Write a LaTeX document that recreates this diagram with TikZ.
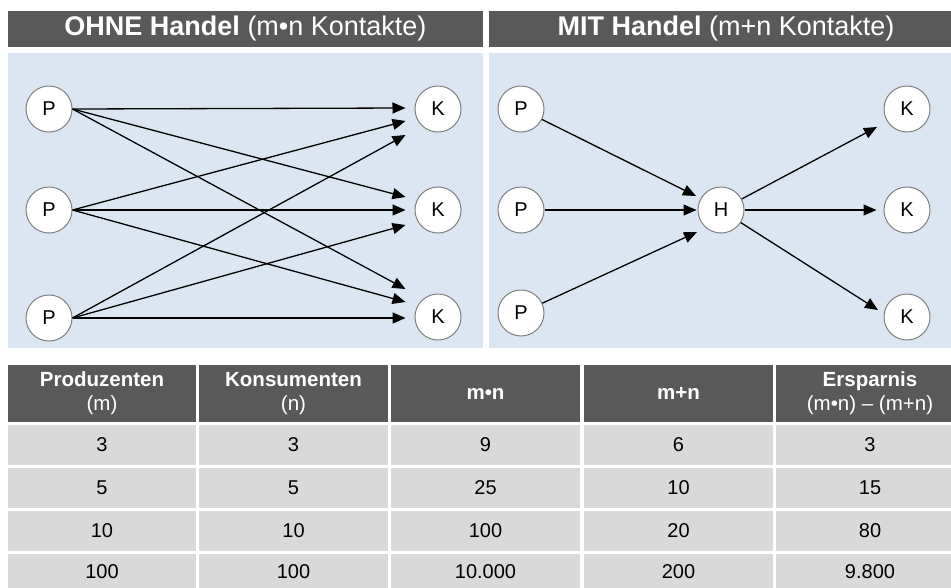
\documentclass[tikz,border=0pt]{standalone}
\usepackage{fontspec}
\setmainfont{Liberation Sans}
\usetikzlibrary{arrows.meta,calc}

\definecolor{barGrey}{HTML}{595959}
\definecolor{panelBlue}{HTML}{DCE6F2}
\definecolor{cellGrey}{HTML}{D9D9D9}
\definecolor{ringGrey}{HTML}{7F7F7F}

\begin{document}
\begin{tikzpicture}[x=1pt,y=-1pt,
  agent/.style={circle,draw=ringGrey,line width=1pt,fill=white,minimum size=46pt,
    inner sep=0pt,font=\fontsize{20}{20}\selectfont},
  flow/.style={line width=1.3pt,draw=black,-{Triangle[length=13pt,width=11pt]}},
  titlebar/.style={fill=barGrey,text=white,inner sep=0pt,minimum height=36pt,
    font=\fontsize{27}{27}\selectfont},
  headcell/.style={fill=barGrey,text=white,inner sep=0pt,align=center,
    font=\fontsize{20.5}{24}\selectfont},
  datacell/.style={fill=cellGrey,text=black,inner sep=0pt,
    font=\fontsize{20}{20}\selectfont},
]
\useasboundingbox (0,0) rectangle (951,587);
\clip (0,0) rectangle (951,587);

% title bars
\node[titlebar,minimum width=475pt] (tl) at (245.5,29) {\textbf{OHNE Handel} (m•n Kontakte)};
\node[titlebar,minimum width=474pt] (tr) at (726,29) {\textbf{MIT Handel} (m+n Kontakte)};

% panels
\fill[panelBlue] (8,53) rectangle (483,348);
\fill[panelBlue] (489,53) rectangle (964,348);

% ---- without trade: every producer to every consumer
\node[agent] (lp1) at (49,109) {P};
\node[agent] (lp2) at (49,210) {P};
\node[agent] (lp3) at (49,318) {P};
\node[agent] (lk1) at (438,109) {K};
\node[agent] (lk2) at (438,210) {K};
\node[agent] (lk3) at (438,317) {K};

\coordinate (a11) at ($(lk1.west)+(-9,-1)$);
\coordinate (a21) at ($(lk1.west)+(-9,12)$);
\coordinate (a31) at ($(lk1.west)+(-9,26)$);
\coordinate (a12) at ($(lk2.west)+(-9,-13)$);
\coordinate (a22) at ($(lk2.west)+(-9,0)$);
\coordinate (a32) at ($(lk2.west)+(-9,15)$);
\coordinate (a13) at ($(lk3.west)+(-9,-28)$);
\coordinate (a23) at ($(lk3.west)+(-9,-15)$);
\coordinate (a33) at ($(lk3.west)+(-9,1)$);

\foreach \i in {1,2,3}{
  \foreach \j in {1,2,3}{
    \draw[flow] (lp\i.east) -- (a\i\j);
  }
}

% ---- with trade: everything passes the trader
\node[agent] (rp1) at (521,109) {P};
\node[agent] (rp2) at (521,210) {P};
\node[agent] (rp3) at (521,313) {P};
\node[agent] (h)   at (721,210) {H};
\node[agent] (rk1) at (907,109) {K};
\node[agent] (rk2) at (907,210) {K};
\node[agent] (rk3) at (907,317) {K};

\coordinate (hin1) at ($(h.center)+(-25,-14)$);
\coordinate (hin2) at ($(h.west)+(-1,0)$);
\coordinate (hin3) at ($(h.center)+(-24,22)$);
\coordinate (kin1) at ($(rk1.center)+(-30,18)$);
\coordinate (kin2) at ($(rk2.west)+(-7,0)$);
\coordinate (kin3) at ($(rk3.center)+(-29,-7)$);

\draw[flow] (rp1) -- (hin1);
\draw[flow] (rp2) -- (hin2);
\draw[flow] (rp3) -- (hin3);
\draw[flow] (h) -- (kin1);
\draw[flow] (h) -- (kin2);
\draw[flow] (h) -- (kin3);

% ---- table
\node[headcell,minimum width=188pt,minimum height=57pt] (t01) at (102,393.5)
  {\textbf{Produzenten}\\(m)};
\node[headcell,minimum width=189pt,minimum height=57pt] (t02) at (293.5,393.5)
  {\textbf{Konsumenten}\\(n)};
\node[headcell,minimum width=189pt,minimum height=57pt] (t03) at (485.5,393.5)
  {\textbf{m•n}};
\node[headcell,minimum width=189pt,minimum height=57pt] (t04) at (678.5,393.5)
  {\textbf{m+n}};
\node[headcell,minimum width=188pt,minimum height=57pt] (t05) at (870,393.5)
  {\textbf{Ersparnis}\\(m•n) – (m+n)};

\foreach \r/\y/\hgt/\a/\b/\c/\d/\e in {
    1/445/40/3/3/9/6/3,
    2/488/40/5/5/25/10/15,
    3/531/40/10/10/100/20/80,
    4/572/36/100/100/10.000/200/9.800}{
  \node[datacell,minimum width=188pt,minimum height=\hgt pt] (t\r1) at (102,\y) {\a};
  \node[datacell,minimum width=189pt,minimum height=\hgt pt] (t\r2) at (293.5,\y) {\b};
  \node[datacell,minimum width=189pt,minimum height=\hgt pt] (t\r3) at (485.5,\y) {\c};
  \node[datacell,minimum width=189pt,minimum height=\hgt pt] (t\r4) at (678.5,\y) {\d};
  \node[datacell,minimum width=188pt,minimum height=\hgt pt] (t\r5) at (870,\y) {\e};
}
\end{tikzpicture}
\end{document}
